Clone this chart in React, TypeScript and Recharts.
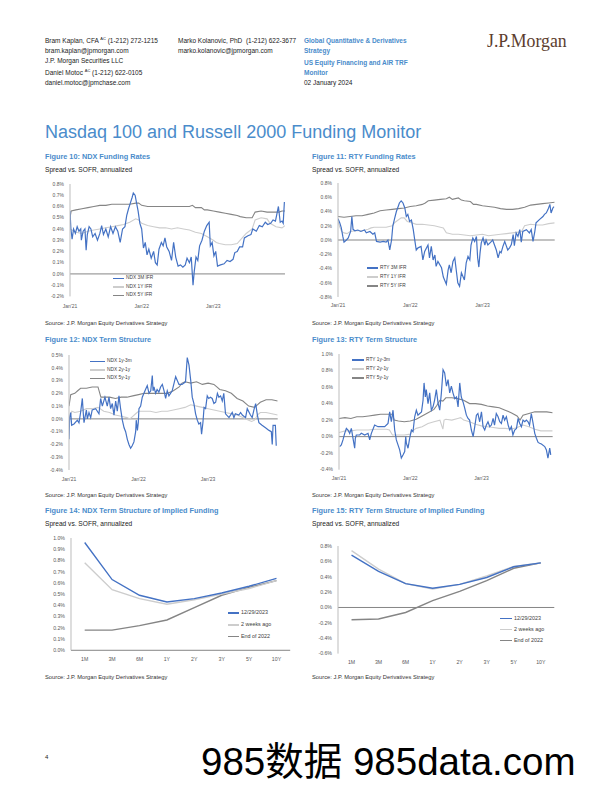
import React from 'react';
import { LineChart, Line, XAxis, YAxis, ReferenceLine } from 'recharts';

const FONT = '"Liberation Sans", Arial, Helvetica, sans-serif';
const BLUE = '#4472c4';
const LIGHT = '#cdcdcd';
const DARK = '#858585';
const TITLE_BLUE = '#4a8ccb';
const TICK_COLOR = '#595959';

type Pt = [number, number];

// ---------- time axis (months since Jan'21) ----------
const yearTicks = [0, 12, 24];
const yearLabels = ["Jan'21", "Jan'22", "Jan'23"];

// ---------- Figure 10: NDX Funding Rates (% spread vs SOFR) ----------
const ndx3m: Pt[] = [[0,0.56],[0.15,0.40],[0.35,0.31],[0.6,0.40],[0.9,0.36],[1.2,0.42],[1.5,0.38],[1.8,0.40],[1.9,0.30],[2.2,0.38],[2.5,0.40],[2.7,0.21],[2.9,0.35],[3.2,0.42],[3.5,0.40],[3.8,0.33],[4.2,0.36],[4.6,0.30],[5.0,0.36],[5.3,0.43],[5.6,0.35],[6.0,0.40],[6.4,0.33],[6.8,0.42],[7.2,0.36],[7.6,0.42],[8.0,0.38],[8.4,0.28],[8.8,0.40],[9.2,0.42],[9.5,0.52],[9.8,0.58],[10.1,0.63],[10.4,0.68],[10.6,0.72],[10.9,0.70],[11.15,0.63],[11.4,0.56],[11.7,0.45],[12.0,0.40],[12.3,0.23],[12.6,0.28],[12.9,0.17],[13.2,0.22],[13.6,0.14],[14.0,0.20],[14.3,0.10],[14.6,0.08],[14.9,0.22],[15.3,0.28],[15.6,0.25],[15.9,0.32],[16.2,0.24],[16.6,0.20],[17.0,0.12],[17.35,0.28],[17.7,0.15],[18.1,0.07],[18.5,0.08],[18.9,0.06],[19.3,0.08],[19.6,0.14],[20.0,0.10],[20.3,0.15],[20.6,-0.10],[20.8,0.02],[21.1,0.15],[21.4,0.12],[21.7,0.25],[22.1,0.30],[22.5,0.38],[22.9,0.43],[23.3,0.46],[23.5,0.25],[23.8,0.28],[24.1,0.16],[24.4,0.20],[24.7,0.07],[25.2,0.08],[25.8,0.09],[26.3,0.12],[26.8,0.11],[27.3,0.13],[27.6,0.19],[28.0,0.20],[28.4,0.24],[28.9,0.24],[29.2,0.32],[29.8,0.34],[30.3,0.35],[30.6,0.40],[31.2,0.38],[31.7,0.43],[32.2,0.42],[32.7,0.46],[33.1,0.44],[33.6,0.45],[34.0,0.48],[34.4,0.47],[34.9,0.60],[35.2,0.46],[35.5,0.47],[35.7,0.45],[35.9,0.64]];
const ndx1y: Pt[] = [[0,0.40],[1,0.37],[2,0.36],[3,0.38],[4,0.39],[5,0.40],[6,0.41],[7,0.42],[8,0.43],[9,0.44],[10,0.46],[11,0.49],[11.5,0.48],[12,0.45],[13,0.43],[14,0.42],[15,0.41],[16,0.41],[17,0.40],[18,0.41],[19,0.40],[20,0.39],[21,0.37],[22,0.36],[23,0.33],[24,0.30],[24.5,0.28],[25,0.27],[26,0.26],[27,0.26],[28,0.27],[28.5,0.30],[29.5,0.36],[30.5,0.40],[31,0.48],[32,0.50],[33,0.49],[33.5,0.45],[34.5,0.42],[35.5,0.41],[36,0.43]];
const ndx5y: Pt[] = [[0,0.50],[0.2,0.56],[1,0.57],[2,0.58],[3,0.59],[4,0.60],[5,0.61],[6,0.61],[7,0.62],[8,0.62],[9,0.62],[10,0.62],[11,0.63],[11.5,0.63],[12,0.61],[13,0.60],[14,0.60],[15,0.60],[16,0.60],[17,0.60],[18,0.60],[19,0.60],[20,0.60],[20.5,0.61],[21,0.59],[22,0.59],[22.5,0.57],[23,0.57],[24,0.56],[25,0.55],[26,0.54],[27,0.53],[28,0.52],[28.5,0.51],[29.5,0.50],[30.5,0.50],[31,0.55],[32,0.56],[33,0.55],[34,0.55],[35,0.55],[35.5,0.56],[36,0.56]];

// ---------- Figure 11: RTY Funding Rates ----------
const rty3m: Pt[] = [[0,0.30],[0.3,0.24],[0.55,0.17],[0.8,0.05],[1.0,-0.03],[1.4,0.0],[1.7,0.03],[2.1,0.12],[2.3,0.33],[2.5,0.15],[2.8,0.13],[3.3,0.14],[3.8,0.12],[4.4,0.14],[4.7,0.10],[5.3,0.12],[5.8,0.08],[6.1,0.10],[6.4,-0.02],[7.0,-0.03],[7.5,-0.02],[8.0,-0.03],[8.3,0.0],[8.6,-0.14],[8.9,0.0],[9.1,0.19],[9.4,0.30],[9.7,0.40],[10.0,0.47],[10.2,0.52],[10.5,0.55],[10.8,0.52],[11.1,0.45],[11.35,0.33],[11.6,0.36],[11.9,0.26],[12.2,0.28],[12.5,0.15],[12.7,0.03],[13.0,-0.14],[13.3,-0.11],[13.8,-0.09],[14.1,-0.28],[14.4,-0.16],[14.95,-0.07],[15.2,-0.25],[15.5,-0.09],[15.8,-0.28],[16.1,-0.21],[16.3,-0.37],[16.6,-0.30],[17.2,-0.39],[17.5,-0.52],[18.0,-0.62],[18.3,-0.42],[18.5,-0.35],[18.8,-0.46],[19.1,-0.30],[19.4,-0.25],[19.7,-0.46],[19.9,-0.60],[20.2,-0.65],[20.5,-0.46],[21.0,-0.56],[21.3,-0.32],[21.6,-0.23],[21.9,-0.28],[22.1,-0.07],[22.4,0.03],[22.7,-0.02],[23.0,0.05],[23.2,-0.25],[23.4,-0.38],[23.6,-0.18],[23.8,-0.04],[24.1,0.03],[24.4,-0.07],[24.6,0.0],[24.9,-0.07],[25.5,-0.02],[25.7,0.0],[26.0,-0.07],[26.3,-0.14],[26.6,-0.25],[26.9,-0.16],[27.1,-0.18],[27.4,-0.09],[27.7,-0.02],[28.2,-0.14],[28.5,-0.11],[28.8,-0.065],[29.1,0.075],[29.3,-0.08],[29.6,0.10],[29.9,0.05],[30.2,0.145],[30.45,-0.03],[30.7,0.12],[31.3,0.145],[31.8,0.10],[32.1,0.145],[32.4,-0.02],[32.7,0.12],[32.9,0.24],[33.5,0.29],[34.05,0.33],[34.3,0.36],[34.6,0.38],[34.9,0.43],[35.2,0.50],[35.4,0.38],[35.7,0.45],[35.9,0.47]];
const rty1y: Pt[] = [[0,0.26],[0.3,0.18],[0.6,0.12],[1,0.10],[1.5,0.09],[2,0.12],[3,0.13],[4,0.13],[5,0.15],[5.5,0.17],[6,0.18],[7,0.18],[8,0.18],[9,0.20],[9.5,0.25],[10,0.28],[10.5,0.31],[11,0.31],[11.5,0.26],[12,0.25],[13,0.22],[14,0.22],[15,0.21],[16,0.20],[17,0.18],[17.5,0.17],[18,0.10],[19,0.08],[20,0.08],[21,0.07],[22,0.06],[23,0.07],[24,0.08],[25,0.06],[26,0.07],[27,0.08],[28,0.09],[29,0.10],[30,0.11],[30.5,0.12],[31,0.20],[32,0.22],[33,0.21],[34,0.21],[35,0.23],[36,0.24]];
const rty5y: Pt[] = [[0,0.33],[1,0.32],[2,0.33],[3,0.34],[4,0.34],[5,0.36],[6,0.38],[7,0.41],[8,0.42],[9,0.43],[10,0.44],[11,0.45],[12,0.47],[13,0.48],[14,0.50],[14.5,0.52],[15,0.55],[16,0.56],[17,0.57],[18,0.58],[18.5,0.60],[19,0.57],[20,0.59],[20.5,0.56],[21,0.55],[22,0.54],[22.5,0.50],[23,0.50],[24,0.48],[25,0.47],[26,0.46],[27,0.44],[28,0.43],[29,0.43],[30,0.44],[31,0.46],[32,0.49],[33,0.50],[34,0.51],[35,0.52],[36,0.53]];

// ---------- Figure 12: NDX Term Structure ----------
const ndx1y3m: Pt[] = [[0,-0.16],[0.11,0.01],[0.29,0.05],[0.46,-0.05],[0.86,-0.04],[1.44,-0.01],[1.72,-0.03],[2.0,0.05],[2.3,0.16],[2.47,0.04],[2.59,-0.03],[3.0,0.07],[3.16,0.0],[3.45,0.05],[3.74,0.01],[4.0,0.07],[4.6,0.08],[5.17,0.04],[5.46,0.16],[5.75,0.10],[6.2,0.17],[6.6,0.10],[6.9,0.17],[7.18,0.08],[7.47,0.12],[7.76,0.03],[8.05,0.14],[8.33,0.06],[8.62,0.18],[8.9,0.08],[9.2,-0.01],[9.5,-0.07],[9.77,-0.10],[10.06,-0.16],[10.34,-0.20],[10.63,-0.23],[10.9,-0.21],[11.2,-0.18],[11.5,-0.10],[11.6,-0.01],[11.8,-0.09],[11.95,-0.03],[12.07,0.08],[12.36,0.10],[12.64,0.17],[12.93,0.20],[13.2,0.23],[13.5,0.26],[13.8,0.20],[14.1,0.22],[14.37,0.34],[14.5,0.22],[14.66,0.25],[14.94,0.20],[15.2,0.23],[15.5,0.21],[15.8,0.25],[16.1,0.27],[16.4,0.22],[16.67,0.16],[16.95,0.22],[17.24,0.18],[17.8,0.22],[18.4,0.33],[18.68,0.30],[18.97,0.27],[19.5,0.27],[20.1,0.29],[20.4,0.48],[20.7,0.42],[21.0,0.30],[21.26,0.17],[21.55,0.12],[21.84,0.04],[22.13,-0.01],[22.4,-0.04],[22.7,-0.03],[22.87,-0.12],[23.1,-0.03],[23.3,0.09],[23.56,0.08],[23.85,0.18],[24.1,0.16],[24.4,0.17],[24.7,0.16],[25.0,0.12],[25.3,0.13],[25.6,0.20],[25.86,0.17],[26.15,0.18],[26.44,0.14],[26.7,0.20],[27.0,0.04],[27.6,0.01],[28.16,0.05],[28.45,0.01],[28.7,0.04],[29.3,0.03],[29.6,0.05],[29.9,0.03],[30.46,0.01],[30.75,0.08],[31.3,0.03],[31.6,0.01],[31.9,0.07],[32.2,0.12],[32.5,0.03],[32.76,-0.03],[33.3,-0.05],[33.9,-0.07],[34.5,-0.09],[34.9,-0.10],[35.06,-0.20],[35.2,-0.05],[35.6,-0.05],[35.75,-0.21]];
const ndx2y1y: Pt[] = [[0,0.0],[0.5,0.06],[1,0.05],[2,0.06],[3,0.08],[4,0.08],[5,0.09],[6,0.06],[7,0.05],[8,0.03],[9,0.02],[10,0.01],[10.5,0.0],[11,0.02],[11.5,0.04],[12,0.06],[13,0.06],[14,0.06],[15,0.05],[16,0.06],[17,0.06],[18,0.07],[19,0.08],[20,0.09],[21,0.11],[22,0.10],[23,0.09],[24,0.08],[25,0.07],[26,0.06],[27,0.05],[28,0.04],[29,0.03],[30,0.01],[31,-0.01],[31.5,-0.02],[32,-0.01],[32.5,0.03],[33,0.05],[34,0.05],[35,0.04],[36,0.03]];
const ndx5y1y: Pt[] = [[0,0.10],[0.3,0.19],[1,0.20],[1.5,0.22],[2,0.24],[3,0.24],[4,0.25],[5,0.25],[5.5,0.17],[6,0.17],[7,0.17],[8,0.16],[9,0.17],[10,0.17],[11,0.18],[12,0.19],[13,0.20],[14,0.20],[15,0.20],[16,0.20],[17,0.20],[18,0.22],[19,0.25],[19.5,0.28],[20,0.29],[21,0.28],[22,0.29],[23,0.27],[24,0.28],[25,0.27],[25.5,0.25],[26,0.23],[27,0.22],[28,0.20],[29,0.16],[30,0.14],[31,0.10],[32,0.09],[32.5,0.11],[33,0.13],[34,0.15],[35,0.15],[36,0.14]];

// ---------- Figure 13: RTY Term Structure ----------
const rty1y3m: Pt[] = [[0.11,-0.12],[0.39,-0.10],[0.67,-0.04],[0.96,0.04],[1.24,0.10],[1.52,0.08],[1.8,0.04],[2.08,0.10],[2.36,-0.02],[2.64,-0.14],[2.75,-0.02],[2.92,0.02],[3.48,0.02],[3.76,0.04],[4.33,0.02],[4.89,0.04],[5.17,-0.04],[5.45,0.04],[6.0,0.14],[6.57,0.12],[7.13,0.12],[7.7,0.12],[8.26,0.16],[8.54,0.30],[8.82,0.18],[9.1,0.32],[9.38,0.08],[9.66,-0.04],[9.94,-0.10],[10.22,-0.16],[10.5,-0.26],[10.8,-0.22],[11.07,-0.18],[11.24,0.0],[11.35,-0.08],[11.63,-0.14],[11.9,-0.02],[12.2,0.08],[12.47,0.06],[12.75,0.24],[13.03,0.32],[13.3,0.26],[13.6,0.28],[13.9,0.30],[14.16,0.44],[14.33,0.65],[14.55,0.48],[14.7,0.57],[15.0,0.40],[15.28,0.53],[15.56,0.32],[15.84,0.36],[16.1,0.44],[16.4,0.57],[16.7,0.40],[16.97,0.32],[17.25,0.53],[17.53,0.81],[17.8,0.77],[18.1,0.61],[18.37,0.69],[18.65,0.53],[18.93,0.61],[19.2,0.53],[19.5,0.46],[19.8,0.48],[20.06,0.36],[20.34,0.65],[20.6,0.48],[20.9,0.42],[21.2,0.34],[21.46,0.26],[21.74,0.22],[22.0,0.20],[22.3,0.08],[22.6,0.0],[22.87,0.12],[23.15,0.26],[23.4,0.28],[23.7,0.18],[24.0,0.30],[24.27,0.12],[24.55,0.08],[24.83,0.14],[25.1,0.18],[25.4,0.12],[25.67,0.14],[25.96,0.22],[26.2,0.14],[26.5,0.28],[26.8,0.24],[27.08,0.18],[27.36,0.16],[27.64,0.26],[27.9,0.20],[28.2,0.24],[28.5,0.14],[28.76,0.08],[29.04,0.12],[29.3,0.02],[29.6,0.08],[29.9,0.10],[30.17,0.22],[30.45,0.16],[30.73,0.12],[31.0,0.20],[31.3,0.18],[31.57,0.20],[31.85,0.18],[32.1,0.14],[32.4,0.28],[32.7,0.16],[32.98,0.04],[33.26,-0.02],[33.54,-0.07],[33.8,-0.08],[34.1,-0.09],[34.66,-0.12],[34.94,-0.16],[35.2,-0.26],[35.5,-0.14],[35.67,-0.22]];
const rty2y1y: Pt[] = [[0,0.05],[0.5,0.06],[1,0.07],[2,0.07],[3,0.08],[4,0.08],[5,0.08],[6,0.09],[7,0.09],[8,0.09],[8.5,0.08],[9,0.02],[10,0.02],[11,0.02],[12,0.03],[12.2,0.06],[13,0.10],[14,0.12],[15,0.16],[16,0.18],[17,0.20],[17.5,0.09],[17.7,0.20],[18,0.21],[19,0.20],[20,0.22],[20.5,0.23],[21,0.20],[22,0.18],[23,0.15],[24,0.13],[25,0.12],[26,0.11],[27,0.10],[28,0.10],[29,0.09],[30,0.11],[31,0.14],[32,0.12],[33,0.09],[34,0.07],[35,0.07],[36,0.07]];
const rty5y1y: Pt[] = [[0,0.22],[1,0.23],[2,0.22],[3,0.24],[4,0.24],[5,0.25],[6,0.26],[7,0.27],[8,0.27],[9,0.27],[9.3,0.20],[10,0.19],[11,0.18],[12,0.19],[13,0.21],[14,0.25],[15,0.29],[16,0.33],[16.5,0.38],[17,0.44],[17.5,0.43],[18,0.47],[19,0.47],[20,0.46],[21,0.44],[22,0.40],[23,0.40],[24,0.39],[25,0.37],[26,0.36],[27,0.35],[28,0.32],[29,0.29],[30,0.25],[30.5,0.20],[31,0.26],[32,0.28],[33,0.30],[34,0.30],[35,0.30],[36,0.29]];

// ---------- Figures 14 & 15: term structure of implied funding ----------
const tenors = ['1M', '3M', '6M', '1Y', '2Y', '3Y', '5Y', '10Y'];
const ndxLatest = [0.96, 0.63, 0.49, 0.43, 0.46, 0.51, 0.57, 0.64];
const ndx2wAgo = [0.78, 0.54, 0.46, 0.41, 0.45, 0.50, 0.55, 0.62];
const ndxEnd2022 = [0.18, 0.18, 0.22, 0.27, 0.38, 0.49, 0.56, 0.62];
const rtyLatest = [0.68, 0.47, 0.31, 0.25, 0.30, 0.39, 0.53, 0.58];
const rty2wAgo = [0.74, 0.50, 0.31, 0.24, 0.30, 0.41, 0.535, 0.58];
const rtyEnd2022 = [-0.16, -0.15, -0.065, 0.09, 0.21, 0.35, 0.51, 0.58];

const ticks10 = [-0.2, -0.1, 0, 0.1, 0.2, 0.3, 0.4, 0.5, 0.6, 0.7, 0.8];
const ticks11 = [-0.8, -0.6, -0.4, -0.2, 0, 0.2, 0.4, 0.6, 0.8];
const ticks12 = [-0.4, -0.3, -0.2, -0.1, 0, 0.1, 0.2, 0.3, 0.4, 0.5];
const ticks13 = [-0.4, -0.2, 0, 0.2, 0.4, 0.6, 0.8, 1.0];
const ticks14 = [0, 0.1, 0.2, 0.3, 0.4, 0.5, 0.6, 0.7, 0.8, 0.9, 1.0];
const ticks15 = [-0.6, -0.4, -0.2, 0, 0.2, 0.4, 0.6, 0.8];

const pct = (v: number) => `${v.toFixed(1)}%`;

// ---------- helpers ----------
function T(props: { x: number; y: number; size: number; color?: string; bold?: boolean; family?: string; children: React.ReactNode }) {
  const { x, y, size, color = '#222', bold = false, family = FONT, children } = props;
  return (
    <div style={{ position: 'absolute', left: x, top: y - size * 0.5, fontSize: size, lineHeight: `${size}px`, color, fontWeight: bold ? 700 : 400, fontFamily: family, whiteSpace: 'nowrap' }}>
      {children}
    </div>
  );
}

type Series = { name: string; color: string; width?: number };
type LegendSpec = { x1: number; x2: number; tx: number; ys: number[]; fs: number; lw?: number };

function LegendBox({ items, spec }: { items: Series[]; spec: LegendSpec }) {
  return (
    <>
      {items.map((s, i) => (
        <React.Fragment key={s.name}>
          <div style={{ position: 'absolute', left: spec.x1, top: spec.ys[i] - (spec.lw || 1.5) / 2, width: spec.x2 - spec.x1, height: spec.lw || 1.5, background: s.color }} />
          <T x={spec.tx} y={spec.ys[i]} size={spec.fs} color="#404040">{s.name}</T>
        </React.Fragment>
      ))}
    </>
  );
}

type TimeProps = {
  axisX: number; plotTop: number; plotBottom: number; plotRight: number;
  yTicks: number[]; xLabelY: number; tickFs: number;
  series: (Series & { pts: Pt[] })[];
  legend: LegendSpec;
};

function TimeChart(p: TimeProps) {
  const yW = 30, mt = 4, mr = 4, xh = 22;
  const left = p.axisX - yW;
  const top = p.plotTop - mt;
  const width = p.plotRight - left + mr;
  const height = p.plotBottom - p.plotTop + mt + xh;
  const tickMarginX = p.xLabelY - p.plotBottom - 0.35 * p.tickFs;
  const yMin = p.yTicks[0], yMax = p.yTicks[p.yTicks.length - 1];
  const ordered = [...p.series].reverse();
  return (
    <>
      <div style={{ position: 'absolute', left, top, width, height }}>
        <LineChart width={width} height={height} margin={{ top: mt, right: mr, bottom: 0, left: 0 }}>
          <XAxis type="number" dataKey="m" domain={[0, 36]} ticks={yearTicks} interval={0}
            tickFormatter={(v: number) => yearLabels[yearTicks.indexOf(v)]}
            axisLine={false} tickLine={false} tickSize={0} tickMargin={tickMarginX} height={xh}
            tick={{ fontSize: p.tickFs, fill: TICK_COLOR, fontFamily: FONT }} allowDataOverflow />
          <YAxis type="number" domain={[yMin, yMax]} ticks={p.yTicks} interval={0} tickFormatter={pct}
            width={yW} axisLine={{ stroke: '#bdbdbd', strokeWidth: 1 }} tickLine={false} tickSize={0} tickMargin={6}
            tick={{ fontSize: p.tickFs, fill: TICK_COLOR, fontFamily: FONT }} allowDataOverflow />
          <ReferenceLine y={0} stroke={DARK} strokeWidth={1} />
          {ordered.map((s) => (
            <Line key={s.name} name={s.name} data={s.pts.map(([m, v]) => ({ m, v }))} dataKey="v" type="linear"
              stroke={s.color} strokeWidth={s.width || 1.1} dot={false} activeDot={false} isAnimationActive={false} />
          ))}
        </LineChart>
      </div>
      <LegendBox items={p.series} spec={p.legend} />
    </>
  );
}

type CatProps = {
  axisX: number; plotTop: number; plotBottom: number; plotRight: number;
  yTicks: number[]; xLabelY: number; tickFs: number;
  series: (Series & { vals: number[] })[];
  legend: LegendSpec;
};

function CatChart(p: CatProps) {
  const yW = 30, mt = 4, mr = 4, xh = 22;
  const left = p.axisX - yW;
  const top = p.plotTop - mt;
  const width = p.plotRight - left + mr;
  const height = p.plotBottom - p.plotTop + mt + xh;
  const tickMarginX = p.xLabelY - p.plotBottom - 0.35 * p.tickFs;
  const yMin = p.yTicks[0], yMax = p.yTicks[p.yTicks.length - 1];
  const idx = tenors.map((_, i) => i);
  const data = tenors.map((t, i) => {
    const row: Record<string, number | string> = { i, tenor: t };
    p.series.forEach((s) => { row[s.name] = s.vals[i]; });
    return row;
  });
  const ordered = [...p.series].reverse();
  return (
    <>
      <div style={{ position: 'absolute', left, top, width, height }}>
        <LineChart width={width} height={height} data={data} margin={{ top: mt, right: mr, bottom: 0, left: 0 }}>
          <XAxis type="number" dataKey="i" domain={[-0.5, tenors.length - 0.5]} ticks={idx} interval={0}
            tickFormatter={(v: number) => tenors[v]}
            axisLine={false} tickLine={false} tickSize={0} tickMargin={tickMarginX} height={xh}
            tick={{ fontSize: p.tickFs, fill: TICK_COLOR, fontFamily: FONT }} allowDataOverflow />
          <YAxis type="number" domain={[yMin, yMax]} ticks={p.yTicks} interval={0} tickFormatter={pct}
            width={yW} axisLine={{ stroke: '#bdbdbd', strokeWidth: 1 }} tickLine={false} tickSize={0} tickMargin={6}
            tick={{ fontSize: p.tickFs, fill: TICK_COLOR, fontFamily: FONT }} allowDataOverflow />
          <ReferenceLine y={0} stroke={DARK} strokeWidth={1} />
          {ordered.map((s) => (
            <Line key={s.name} name={s.name} dataKey={s.name} type="linear"
              stroke={s.color} strokeWidth={s.width || 1.4} dot={false} activeDot={false} isAnimationActive={false} />
          ))}
        </LineChart>
      </div>
      <LegendBox items={p.series} spec={p.legend} />
    </>
  );
}

const SOURCE = 'Source: J.P. Morgan Equity Derivatives Strategy';
const SUB = 'Spread vs. SOFR, annualized';

export default function App() {
  const hf = 6.5;
  const sup = (s: string) => <span style={{ fontSize: 4, verticalAlign: 'super', lineHeight: 0 }}>{s}</span>;
  return (
    <div style={{ position: 'absolute', left: 0, top: 0, width: 612, height: 792, background: '#fff', overflow: 'hidden', fontFamily: FONT }}>
      {/* header */}
      <T x={45} y={41.5} size={hf}>Bram Kaplan, CFA {sup('AC')} (1-212) 272-1215</T>
      <T x={45} y={51.5} size={hf}>bram.kaplan@jpmorgan.com</T>
      <T x={45} y={61.5} size={hf}>J.P. Morgan Securities LLC</T>
      <T x={45} y={73} size={hf}>Daniel Motoc {sup('AC')} (1-212) 622-0105</T>
      <T x={45} y={83} size={hf}>daniel.motoc@jpmchase.com</T>
      <T x={178} y={41.5} size={hf}>Marko Kolanovic, PhD&nbsp; (1-212) 622-3677</T>
      <T x={178} y={51.5} size={hf}>marko.kolanovic@jpmorgan.com</T>
      <T x={304} y={41.5} size={hf} bold color={TITLE_BLUE}>Global Quantitative &amp; Derivatives</T>
      <T x={304} y={51.5} size={hf} bold color={TITLE_BLUE}>Strategy</T>
      <T x={304} y={63} size={hf} bold color={TITLE_BLUE}>US Equity Financing and AIR TRF</T>
      <T x={304} y={73} size={hf} bold color={TITLE_BLUE}>Monitor</T>
      <T x={304} y={83} size={hf}>02 January 2024</T>
      <T x={487} y={42} size={17.8} color="#5c3d2e" family='"Liberation Serif", "DejaVu Serif", serif'>J.P.Morgan</T>

      <T x={45} y={132} size={18} color={TITLE_BLUE}>Nasdaq 100 and Russell 2000 Funding Monitor</T>

      {/* Figure 10 */}
      <T x={45} y={157} size={7.3} bold color={TITLE_BLUE}>Figure 10: NDX Funding Rates</T>
      <T x={45} y={170.7} size={6.6}>{SUB}</T>
      <TimeChart axisX={70} plotTop={184.3} plotBottom={296.7} plotRight={285} yTicks={ticks10} xLabelY={307} tickFs={5}
        series={[
          { name: 'NDX 3M IFR', color: BLUE, pts: ndx3m, width: 1.2 },
          { name: 'NDX 1Y IFR', color: LIGHT, pts: ndx1y },
          { name: 'NDX 5Y IFR', color: DARK, pts: ndx5y },
        ]}
        legend={{ x1: 113, x2: 124, tx: 126, ys: [278.7, 287, 295.3], fs: 4.8 }} />
      <T x={45} y={323.7} size={5.75} color="#333">{SOURCE}</T>

      {/* Figure 11 */}
      <T x={312} y={157} size={7.3} bold color={TITLE_BLUE}>Figure 11: RTY Funding Rates</T>
      <T x={312} y={170.7} size={6.6}>{SUB}</T>
      <TimeChart axisX={338.3} plotTop={183.3} plotBottom={297.3} plotRight={555} yTicks={ticks11} xLabelY={305.7} tickFs={5}
        series={[
          { name: 'RTY 3M IFR', color: BLUE, pts: rty3m, width: 1.2 },
          { name: 'RTY 1Y IFR', color: LIGHT, pts: rty1y },
          { name: 'RTY 5Y IFR', color: DARK, pts: rty5y },
        ]}
        legend={{ x1: 367, x2: 378, tx: 380, ys: [268, 277, 286], fs: 4.8 }} />
      <T x={312} y={323.7} size={5.75} color="#333">{SOURCE}</T>

      {/* Figure 12 */}
      <T x={45} y={340} size={7.3} bold color={TITLE_BLUE}>Figure 12: NDX Term Structure</T>
      <TimeChart axisX={69.3} plotTop={355} plotBottom={470} plotRight={278} yTicks={ticks12} xLabelY={479} tickFs={5}
        series={[
          { name: 'NDX 1y-3m', color: BLUE, pts: ndx1y3m, width: 1.2 },
          { name: 'NDX 2y-1y', color: LIGHT, pts: ndx2y1y },
          { name: 'NDX 5y-1y', color: DARK, pts: ndx5y1y },
        ]}
        legend={{ x1: 90, x2: 105, tx: 107, ys: [361.7, 370, 378.3], fs: 4.8 }} />
      <T x={45} y={495.7} size={5.75} color="#333">{SOURCE}</T>

      {/* Figure 13 */}
      <T x={312} y={340} size={7.3} bold color={TITLE_BLUE}>Figure 13: RTY Term Structure</T>
      <TimeChart axisX={339.3} plotTop={354.3} plotBottom={470} plotRight={553} yTicks={ticks13} xLabelY={479} tickFs={5}
        series={[
          { name: 'RTY 1y-3m', color: BLUE, pts: rty1y3m, width: 1.2 },
          { name: 'RTY 2y-1y', color: LIGHT, pts: rty2y1y },
          { name: 'RTY 5y-1y', color: DARK, pts: rty5y1y },
        ]}
        legend={{ x1: 352, x2: 364, tx: 366, ys: [360, 369, 378], fs: 4.8 }} />
      <T x={312} y={495.7} size={5.75} color="#333">{SOURCE}</T>

      {/* Figure 14 */}
      <T x={45} y={511} size={7.3} bold color={TITLE_BLUE}>Figure 14: NDX Term Structure of Implied Funding</T>
      <T x={45} y={524} size={6.6}>{SUB}</T>
      <CatChart axisX={70.5} plotTop={537.7} plotBottom={650} plotRight={289.7} yTicks={ticks14} xLabelY={659.3} tickFs={5.2}
        series={[
          { name: '12/29/2023', color: BLUE, vals: ndxLatest },
          { name: '2 weeks ago', color: LIGHT, vals: ndx2wAgo },
          { name: 'End of 2022', color: DARK, vals: ndxEnd2022 },
        ]}
        legend={{ x1: 228, x2: 239, tx: 241, ys: [613, 625, 636.7], fs: 5.4 }} />
      <T x={45} y={678} size={5.75} color="#333">{SOURCE}</T>

      {/* Figure 15 */}
      <T x={312} y={511} size={7.3} bold color={TITLE_BLUE}>Figure 15: RTY Term Structure of Implied Funding</T>
      <T x={312} y={524} size={6.6}>{SUB}</T>
      <CatChart axisX={338} plotTop={545.7} plotBottom={653.3} plotRight={554.3} yTicks={ticks15} xLabelY={661.7} tickFs={5.2}
        series={[
          { name: '12/29/2023', color: BLUE, vals: rtyLatest },
          { name: '2 weeks ago', color: LIGHT, vals: rty2wAgo },
          { name: 'End of 2022', color: DARK, vals: rtyEnd2022 },
        ]}
        legend={{ x1: 500, x2: 512, tx: 514, ys: [618.3, 629.3, 640.7], fs: 5.4 }} />
      <T x={312} y={678} size={5.75} color="#333">{SOURCE}</T>

      {/* footer */}
      <T x={45} y={757} size={6}>4</T>
      <T x={201} y={762} size={38.5} color="#000" family='"Liberation Sans", "Noto Sans CJK SC", sans-serif'>985数据 985data.com</T>
    </div>
  );
}
